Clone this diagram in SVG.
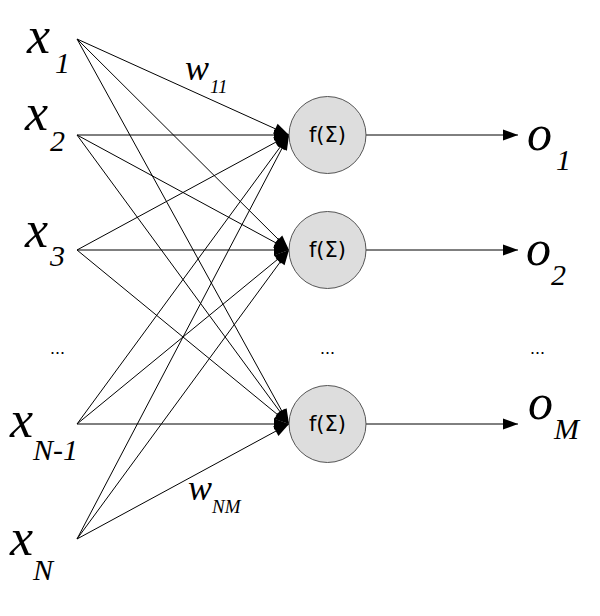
<svg xmlns="http://www.w3.org/2000/svg" width="600" height="616" viewBox="0 0 600 616">
<style>
.var{font-family:"Liberation Serif","Times New Roman",serif;font-style:italic;font-size:52px;fill:#000}
.out{font-family:"Liberation Serif","Times New Roman",serif;font-style:italic;font-size:50px;fill:#000}
.sub{font-family:"Liberation Serif","Times New Roman",serif;font-style:italic;font-size:30px;fill:#000}
.w{font-family:"Liberation Serif","Times New Roman",serif;font-style:italic;font-size:36px;fill:#000}
.wsub{font-family:"Liberation Serif","Times New Roman",serif;font-style:italic;font-size:19px;fill:#000}
.dots{font-family:"Liberation Sans",Arial,sans-serif;font-size:18px;fill:#000}
.fn{font-family:"DejaVu Sans","Liberation Sans",sans-serif;font-size:21px;fill:#000;text-anchor:middle}
.neuron{fill:#dddddd;stroke:#555555;stroke-width:1}
.edge{stroke:#000;stroke-width:1;fill:none;marker-end:url(#arr)}
</style>
<defs>
<marker id="arr" markerUnits="userSpaceOnUse" markerWidth="15" markerHeight="11" refX="15" refY="5.5" orient="auto" overflow="visible">
<path d="M0,0 L15,5.5 L0,11 z" fill="#000"/>
</marker>
</defs>
<rect width="600" height="616" fill="#fff"/>
<g id="connectors">
<line class="edge" x1="77" y1="39" x2="289" y2="135"/>
<line class="edge" x1="77" y1="39" x2="289" y2="250"/>
<line class="edge" x1="77" y1="39" x2="289" y2="424"/>
<line class="edge" x1="77" y1="135" x2="289" y2="135"/>
<line class="edge" x1="77" y1="135" x2="289" y2="250"/>
<line class="edge" x1="77" y1="135" x2="289" y2="424"/>
<line class="edge" x1="77" y1="250" x2="289" y2="135"/>
<line class="edge" x1="77" y1="250" x2="289" y2="250"/>
<line class="edge" x1="77" y1="250" x2="289" y2="424"/>
<line class="edge" x1="77" y1="424" x2="289" y2="135"/>
<line class="edge" x1="77" y1="424" x2="289" y2="250"/>
<line class="edge" x1="77" y1="424" x2="289" y2="424"/>
<line class="edge" x1="77" y1="539" x2="289" y2="135"/>
<line class="edge" x1="77" y1="539" x2="289" y2="250"/>
<line class="edge" x1="77" y1="539" x2="289" y2="424"/>
<line class="edge" x1="366" y1="135" x2="518" y2="135"/>
<line class="edge" x1="366" y1="250" x2="518" y2="250"/>
<line class="edge" x1="366" y1="424" x2="518" y2="424"/>
<text class="w" x="185" y="80">w</text><text class="wsub" x="210" y="93">11</text>
<text class="w" x="188" y="500">w</text><text class="wsub" x="212" y="513">NM</text>
</g>
<g id="input1"><text class="var" x="27" y="53">x</text><text class="sub" x="55" y="73">1</text></g>
<g id="input2"><text class="var" x="25" y="130">x</text><text class="sub" x="50" y="151">2</text></g>
<g id="input3"><text class="var" x="25" y="247">x</text><text class="sub" x="50" y="266">3</text></g>
<g id="inputDots"><text class="dots" x="50" y="354">...</text></g>
<g id="inputN1"><text class="var" x="10" y="437">x</text><text class="sub" x="33" y="460">N-1</text></g>
<g id="inputN"><text class="var" x="10" y="555">x</text><text class="sub" x="33" y="580">N</text></g>
<g id="neuron1"><circle class="neuron" cx="327.5" cy="135" r="38.5"/><text class="fn" x="327.5" y="142">f(Σ)</text></g>
<g id="neuron2"><circle class="neuron" cx="327.5" cy="250" r="38.5"/><text class="fn" x="327.5" y="257">f(Σ)</text></g>
<g id="neuronDots"><text class="dots" x="320" y="354">...</text></g>
<g id="neuronM"><circle class="neuron" cx="327.5" cy="424" r="38.5"/><text class="fn" x="327.5" y="431">f(Σ)</text></g>
<g id="output1"><text class="out" x="527" y="150">o</text><text class="sub" x="556" y="170">1</text></g>
<g id="output2"><text class="out" x="526" y="265">o</text><text class="sub" x="551" y="285">2</text></g>
<g id="outputDots"><text class="dots" x="530" y="354">...</text></g>
<g id="outputM"><text class="out" x="528" y="419">o</text><text class="sub" x="554" y="439">M</text></g>
</svg>
